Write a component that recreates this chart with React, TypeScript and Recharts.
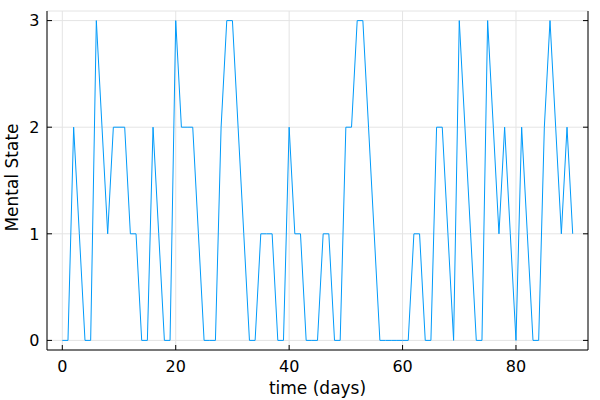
import React from 'react';
import { LineChart, Line, XAxis, YAxis, CartesianGrid, Label } from 'recharts';

const days = [
  0, 1, 2, 3, 4, 5, 6, 7, 8, 9, 10, 11, 12, 13, 14, 15, 16, 17, 18, 19,
  20, 21, 22, 23, 24, 25, 26, 27, 28, 29, 30, 31, 32, 33, 34, 35, 36, 37, 38, 39,
  40, 41, 42, 43, 44, 45, 46, 47, 48, 49, 50, 51, 52, 53, 54, 55, 56, 57, 58, 59,
  60, 61, 62, 63, 64, 65, 66, 67, 68, 69, 70, 71, 72, 73, 74, 75, 76, 77, 78, 79,
  80, 81, 82, 83, 84, 85, 86, 87, 88, 89, 90,
];

const mentalState = [
  0, 0, 2, 1, 0, 0, 3, 2, 1, 2, 2, 2, 1, 1, 0, 0, 2, 1, 0, 0,
  3, 2, 2, 2, 1, 0, 0, 0, 2, 3, 3, 2, 1, 0, 0, 1, 1, 1, 0, 0,
  2, 1, 1, 0, 0, 0, 1, 1, 0, 0, 2, 2, 3, 3, 2, 1, 0, 0, 0, 0,
  0, 0, 1, 1, 0, 0, 2, 2, 1, 0, 3, 2, 1, 0, 0, 3, 2, 1, 2, 1,
  0, 2, 1, 0, 0, 2, 3, 2, 1, 2, 1,
];

const xTicks = [0, 20, 40, 60, 80];
const yTicks = [0, 1, 2, 3];

const data = days.map((d, i) => ({ day: d, state: mentalState[i] }));

const FONT = 'DejaVu Sans';
const TICK_FS = 16;
const TITLE_FS = 17;
const FRAME = '#000000';
const TL = 5;

const BottomTick = (props: any) => {
  const { x, y, payload } = props;
  return (
    <g>
      <line x1={x} y1={y} x2={x} y2={y - TL} stroke={FRAME} strokeWidth={1} />
      <text x={x} y={y + 22} textAnchor="middle" fontSize={TICK_FS} fontFamily={FONT} fill="#000">
        {payload.value}
      </text>
    </g>
  );
};

const TopTick = (props: any) => {
  const { x, y } = props;
  return <line x1={x} y1={y} x2={x} y2={y + TL} stroke={FRAME} strokeWidth={1} />;
};

const LeftTick = (props: any) => {
  const { x, y, payload } = props;
  return (
    <g>
      <line x1={x} y1={y} x2={x + TL} y2={y} stroke={FRAME} strokeWidth={1} />
      <text x={x - 7.5} y={y} dy="0.36em" textAnchor="end" fontSize={TICK_FS} fontFamily={FONT} fill="#000">
        {payload.value}
      </text>
    </g>
  );
};

const RightTick = (props: any) => {
  const { x, y } = props;
  return <line x1={x} y1={y} x2={x - TL} y2={y} stroke={FRAME} strokeWidth={1} />;
};

export default function App() {
  return (
    <div style={{ position: 'absolute', left: 0, top: 0, background: '#fff' }}>
      <LineChart
        width={600}
        height={400}
        data={data}
        margin={{ top: 11, right: 0, bottom: 0, left: 0 }}
      >
        <CartesianGrid stroke="#e4e4e4" strokeWidth={1} />
        <XAxis
          dataKey="day"
          type="number"
          domain={[-2.7, 92.7]}
          ticks={xTicks}
          interval={0}
          allowDataOverflow
          height={50}
          tickSize={0}
          tickMargin={0}
          tickLine={false}
          axisLine={{ stroke: FRAME, strokeWidth: 1 }}
          tick={<BottomTick />}
        >
          <Label
            content={(p: any) => {
              const vb = p.viewBox;
              return (
                <text x={vb.x + vb.width / 2} y={vb.y + 44} textAnchor="middle" fontSize={TITLE_FS} fontFamily={FONT} fill="#000">
                  time (days)
                </text>
              );
            }}
          />
        </XAxis>
        <XAxis
          xAxisId="top"
          orientation="top"
          dataKey="day"
          type="number"
          domain={[-2.7, 92.7]}
          ticks={xTicks}
          interval={0}
          allowDataOverflow
          height={0}
          tickSize={0}
          tickMargin={0}
          tickLine={false}
          axisLine={{ stroke: FRAME, strokeWidth: 1 }}
          tick={<TopTick />}
        />
        <YAxis
          type="number"
          domain={[-0.09, 3.09]}
          ticks={yTicks}
          interval={0}
          allowDataOverflow
          width={47}
          tickSize={0}
          tickMargin={0}
          tickLine={false}
          axisLine={{ stroke: FRAME, strokeWidth: 1 }}
          tick={<LeftTick />}
        >
          <Label
            content={(p: any) => {
              const vb = p.viewBox;
              const cx = 17.5;
              const cy = vb.y + vb.height / 2 - 3;
              return (
                <text x={cx} y={cy} transform={`rotate(-90, ${cx}, ${cy})`} textAnchor="middle" fontSize={TITLE_FS} fontFamily={FONT} fill="#000">
                  Mental State
                </text>
              );
            }}
          />
        </YAxis>
        <YAxis
          yAxisId="right"
          orientation="right"
          type="number"
          domain={[-0.09, 3.09]}
          ticks={yTicks}
          interval={0}
          allowDataOverflow
          width={12}
          tickSize={0}
          tickMargin={0}
          tickLine={false}
          axisLine={{ stroke: FRAME, strokeWidth: 1 }}
          tick={<RightTick />}
        />
        <Line
          type="linear"
          dataKey="state"
          stroke="#009AFA"
          strokeWidth={1}
          dot={false}
          isAnimationActive={false}
        />
      </LineChart>
    </div>
  );
}
